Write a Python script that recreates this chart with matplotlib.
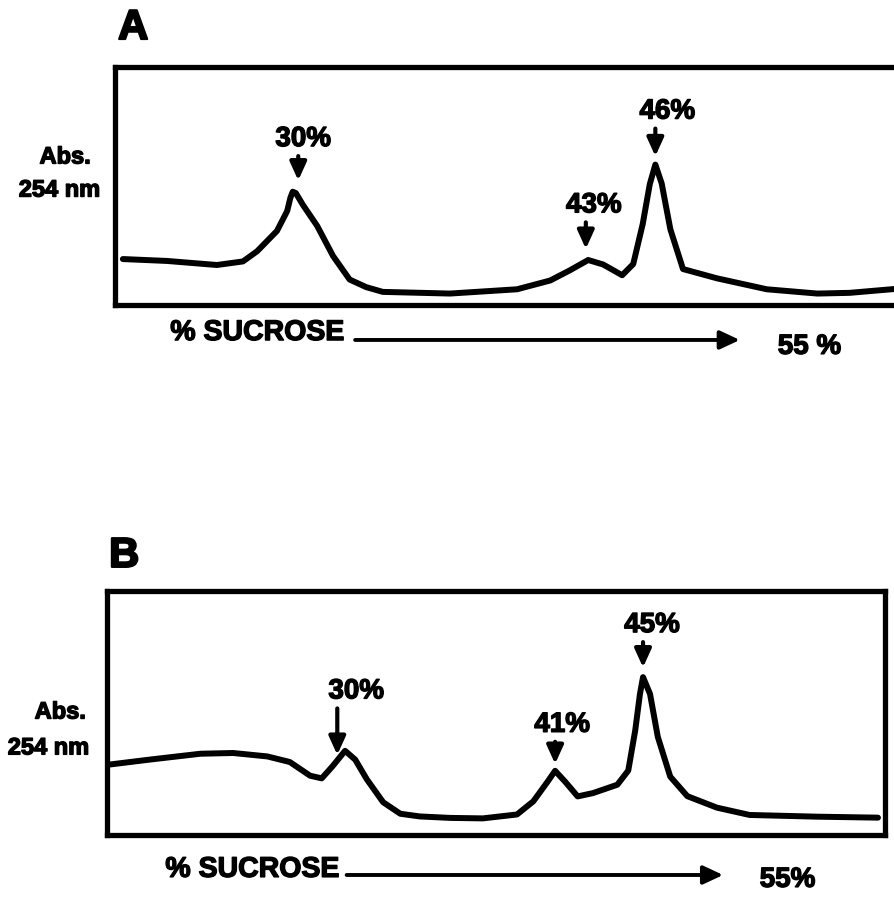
import matplotlib
matplotlib.use('Agg')
import matplotlib.pyplot as plt
import matplotlib.patheffects as pe
import numpy as np

plt.rcParams['font.family'] = ['Liberation Sans', 'DejaVu Sans']
plt.rcParams['font.weight'] = 'bold'

# Panel A: position along gradient (fraction of tube) vs absorbance (arb.)
pos_a = [0.010, 0.066, 0.129, 0.162, 0.180, 0.205, 0.218, 0.222, 0.225, 0.229,
         0.238, 0.256, 0.276, 0.297, 0.318, 0.339, 0.424, 0.509, 0.551, 0.576,
         0.599, 0.618, 0.642, 0.656, 0.668, 0.677, 0.684, 0.692, 0.703, 0.719,
         0.762, 0.825, 0.889, 0.930, 0.986, 1.000]
abs_a = [0.193, 0.185, 0.168, 0.183, 0.226, 0.311, 0.395, 0.450, 0.476, 0.470,
         0.420, 0.332, 0.206, 0.107, 0.075, 0.055, 0.048, 0.066, 0.103, 0.146,
         0.189, 0.170, 0.125, 0.172, 0.340, 0.508, 0.590, 0.511, 0.318, 0.151,
         0.112, 0.066, 0.048, 0.051, 0.067, 0.068]
peaks_a = ['30%', '43%', '46%']
peak_pos_a = [0.232, 0.596, 0.684]

# Panel B
pos_b = [0.004, 0.055, 0.120, 0.162, 0.206, 0.235, 0.261, 0.276, 0.290, 0.306,
         0.319, 0.334, 0.355, 0.377, 0.402, 0.441, 0.483, 0.527, 0.548, 0.566,
         0.576, 0.589, 0.605, 0.625, 0.656, 0.670, 0.679, 0.685, 0.689, 0.698,
         0.708, 0.724, 0.746, 0.784, 0.826, 0.913, 0.991]
abs_b = [0.291, 0.311, 0.335, 0.338, 0.324, 0.301, 0.245, 0.234, 0.284, 0.347,
         0.311, 0.230, 0.136, 0.089, 0.078, 0.072, 0.070, 0.086, 0.140, 0.219,
         0.265, 0.220, 0.160, 0.174, 0.208, 0.266, 0.431, 0.579, 0.649, 0.580,
         0.404, 0.241, 0.161, 0.114, 0.084, 0.077, 0.073]
peaks_b = ['30%', '41%', '45%']
peak_pos_b = [0.296, 0.576, 0.689]

heavy = [pe.withStroke(linewidth=1.0, foreground='black')]


def panel(ax, x, y, labels, label_x, gaps, lengths, dxs, letter, end_label, layout):
	ax.plot(x, y, color='black', lw=4.3, solid_joinstyle='round', solid_capstyle='round')
	ax.set_xlim(0, 1)
	ax.set_ylim(0, 1)
	ax.set_xticks([])
	ax.set_yticks([])
	for s in ax.spines.values():
		s.set_linewidth(3.8)

	# peak arrows and labels (offsets in pixels, dpi 100)
	for lab, px, gap, ln, dx in zip(labels, label_x, gaps, lengths, dxs):
		py = np.interp(px, x, y)
		ax.annotate('', xy=(px, py), xycoords='data',
					xytext=(0, gap + ln), textcoords='offset pixels',
					arrowprops=dict(arrowstyle='-|>,head_length=0.55,head_width=0.25',
									lw=3.0, color='black',
									mutation_scale=20, shrinkA=0, shrinkB=gap))
		ax.annotate(lab, xy=(px, py), xycoords='data',
					xytext=(dx, gap + ln + 17), textcoords='offset pixels',
					ha='center', va='center', fontsize=20, fontweight='bold',
					path_effects=heavy)

	ax.text(layout['letter'][0], layout['letter'][1], letter, transform=ax.transAxes,
			fontsize=30, fontweight='bold', ha='center', va='center',
			path_effects=[pe.withStroke(linewidth=1.6, foreground='black')])
	ax.text(layout['abs'][0], layout['abs'][1], 'Abs.', transform=ax.transAxes,
			fontsize=17, fontweight='bold', ha='center', va='center', path_effects=heavy)
	ax.text(layout['nm'][0], layout['nm'][1], '254 nm', transform=ax.transAxes,
			fontsize=17, fontweight='bold', ha='center', va='center', path_effects=heavy)
	ax.text(layout['suc'][0], layout['suc'][1], '% SUCROSE', transform=ax.transAxes,
			fontsize=20.5, fontweight='bold', ha='left', va='center', path_effects=heavy)
	ax.annotate('', xy=(layout['arr'][1], layout['arr'][2]), xycoords='axes fraction',
				xytext=(layout['arr'][0], layout['arr'][2]), textcoords='axes fraction',
				arrowprops=dict(arrowstyle='-|>,head_length=0.6,head_width=0.28',
								lw=2.8, color='black',
								mutation_scale=20, shrinkA=0, shrinkB=0))
	ax.text(layout['end'][0], layout['end'][1], end_label, transform=ax.transAxes,
			fontsize=20, fontweight='bold', ha='left', va='center', path_effects=heavy)


fig = plt.figure(figsize=(8.94, 8.97), dpi=100)
ax_a = fig.add_axes([0.1286, 0.6600, 0.8837, 0.2653])
ax_b = fig.add_axes([0.1197, 0.0686, 0.8702, 0.2720])

panel(ax_a, pos_a, abs_a, peaks_a, peak_pos_a,
	  gaps=[12, 9, 6], lengths=[29, 30, 30], dxs=[5, 8, 12], letter='A', end_label='55 %',
	  layout={'letter': (0.023, 1.164), 'abs': (-0.063, 0.622), 'nm': (-0.070, 0.483),
			  'suc': (0.070, -0.118), 'arr': (0.304, 0.791, -0.147), 'end': (0.839, -0.176)})

panel(ax_b, pos_b, abs_b, peaks_b, peak_pos_b,
	  gaps=[4, 5, 7], lengths=[48, 24, 28], dxs=[19, 7, 9], letter='B', end_label='55%',
	  layout={'letter': (0.022, 1.146), 'abs': (-0.060, 0.506), 'nm': (-0.075, 0.359),
			  'suc': (0.075, -0.141), 'arr': (0.308, 0.792, -0.162), 'end': (0.839, -0.182)})

fig.savefig('out.png', dpi=100)
